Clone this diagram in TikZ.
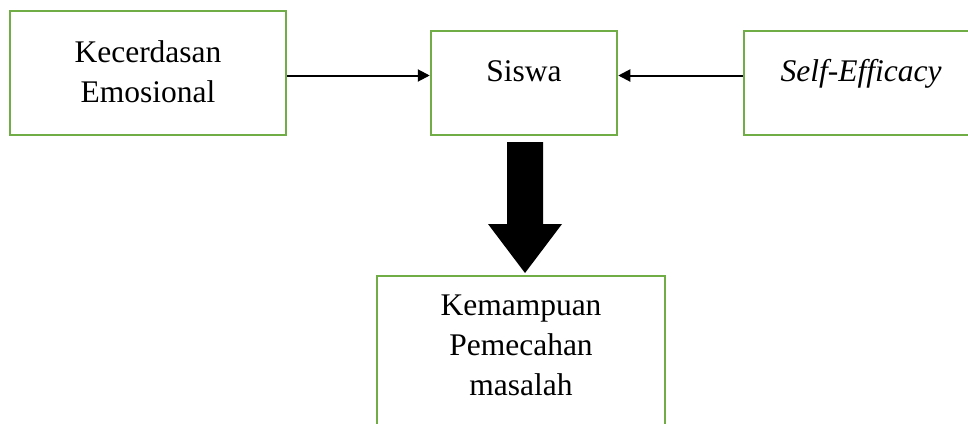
\documentclass[tikz,border=0pt]{standalone}
\usepackage{fontspec}
\setmainfont{Liberation Serif}
\usetikzlibrary{arrows.meta}
\definecolor{boxgreen}{HTML}{70AD47}
\begin{document}
\begin{tikzpicture}[x=1pt,y=-1pt,
  box/.style={draw=boxgreen,line width=2.5pt,rectangle,inner sep=0pt},
  lbl/.style={inner sep=0pt,align=center,anchor=base,font=\fontsize{31.5}{40}\selectfont},
  conn/.style={line width=2pt,-{Triangle[length=12pt,width=12pt]}}]
\useasboundingbox (0,0) rectangle (968,423);
\clip (0,0) rectangle (968,423);
\node[box,minimum width=276pt,minimum height=124pt] (ke) at (148,73) {};
\node[box,minimum width=186pt,minimum height=104pt] (si) at (524,83) {};
\node[box,minimum width=234pt,minimum height=104pt] (se) at (861,83) {};
\node[box,minimum width=288pt,minimum height=164pt] (km) at (521,358) {};
\node[lbl] (t1) at (148,102) {Kecerdasan\\Emosional};
\node[lbl] (t2) at (524,81.7) {Siswa};
\node[lbl] (t3) at (861,81.7) {\itshape Self-Efficacy};
\node[lbl] (t4) at (521,395) {Kemampuan\\Pemecahan\\masalah};
\draw[conn] (ke.east |- 0,75.5) -- (si.west |- 0,75.5);
\draw[conn] (se.west |- 0,75.5) -- (si.east |- 0,75.5);
\fill[black] (507,142) -- (543,142) -- (543,224) -- (562,224) -- (525,273)
  -- (488,224) -- (507,224) -- cycle;
\end{tikzpicture}
\end{document}
